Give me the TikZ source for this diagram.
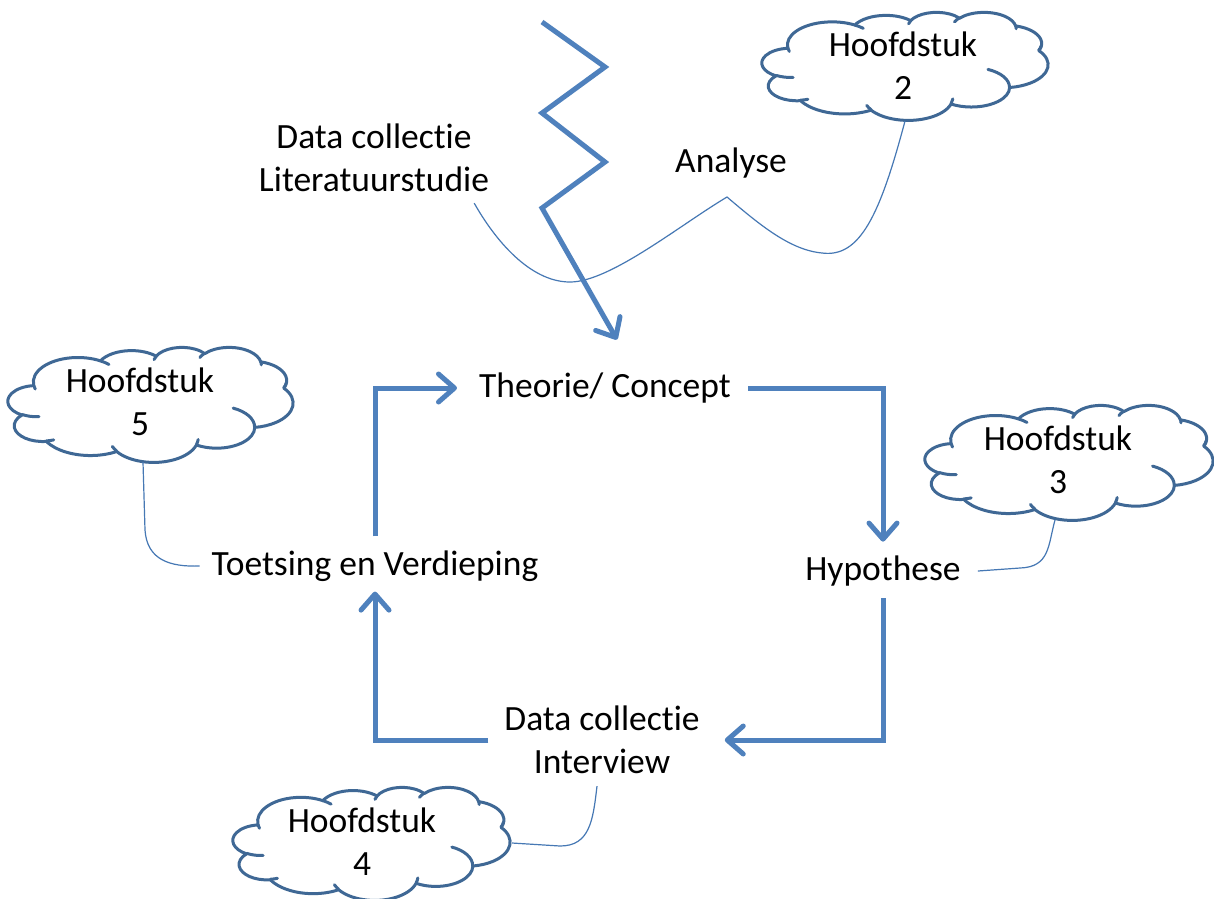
\documentclass[tikz,border=0pt]{standalone}
\usepackage{fontspec}
\setmainfont{Carlito}[Ligatures={NoCommon,NoDiscretionary,NoContextual}]
\usetikzlibrary{arrows.meta}
\definecolor{flowblue}{HTML}{4F81BD}
\definecolor{cloudedge}{HTML}{3F6895}
\definecolor{thinblue}{HTML}{4678B4}

% Office-style cloud: #1 left, #2 top, #3 width, #4 height (pixels)
\newcommand{\ocloud}[4]{%
\begin{scope}[shift={(#1,#2)}, xscale=#3/432, yscale=#4/432]
\path[cloudline] (39.00,143.70)
  arc[start angle={vang(-190.48748,67.53,91.90)}, end angle={vang(-66.70695,67.53,91.90)}, x radius=67.53, y radius=91.90]
  arc[start angle={vang(-144.10238,53.33,72.67)}, end angle={vang(-54.15715,53.33,72.67)}, x radius=53.33, y radius=72.67]
  arc[start angle={vang(-145.80792,43.65,59.45)}, end angle={vang(-46.0849,43.65,59.45)}, x radius=43.65, y radius=59.45]
  arc[start angle={vang(-130.98607,48.57,65.95)}, end angle={vang(-13.74434,48.57,65.95)}, x radius=48.57, y radius=65.95]
  arc[start angle={vang(-78.70888,53.33,72.73)}, end angle={vang(30.31804,53.33,72.73)}, x radius=53.33, y radius=72.73]
  arc[start angle={vang(-46.26725,67.75,92.20)}, end angle={vang(84.00175,67.75,92.20)}, x radius=67.75, y radius=92.20]
  arc[start angle={vang(0.62502,57.85,78.67)}, end angle={vang(114.65835,57.85,78.67)}, x radius=57.85, y radius=78.67]
  arc[start angle={vang(22.4516,67.52,92.15)}, end angle={vang(137.62415,67.52,92.15)}, x radius=67.52, y radius=92.15]
  arc[start angle={vang(66.24263,77.20,105.43)}, end angle={vang(141.95365,77.20,105.43)}, x radius=77.20, y radius=105.43]
  arc[start angle={vang(-274.94208,43.60,59.18)}, end angle={vang(-128.20651,43.60,59.18)}, x radius=43.60, y radius=59.18]
  arc[start angle={vang(-246.8285,43.45,59.45)}, end angle={vang(-94.30965,43.45,59.45)}, x radius=43.45, y radius=59.45]
  -- cycle;
\path[cloudhook]
  (46.93,261.77) arc[start angle={vang(86.742,43.45,59.45)}, end angle={vang(113.1715,43.45,59.45)}, x radius=43.45, y radius=59.45]
  (69.28,348.99) arc[start angle={vang(73.61047,43.60,59.18)}, end angle={vang(85.05794,43.60,59.18)}, x radius=43.60, y radius=59.18]
  (164.78,390.90) arc[start angle={vang(137.62415,67.52,92.15)}, end angle={vang(151.70525,67.52,92.15)}, x radius=67.52, y radius=92.15]
  (288.27,347.51) arc[start angle={vang(6.45327,67.52,92.15)}, end angle={vang(22.45162,67.52,92.15)}, x radius=67.52, y radius=92.15]
  (341.29,229.54) arc[start angle={vang(-70.29235,57.85,78.67)}, end angle={vang(0.62502,57.85,78.67)}, x radius=57.85, y radius=78.67]
  (417.98,153.54) arc[start angle={vang(30.31803,53.33,72.73)}, end angle={vang(11.64246,53.33,72.73)}, x radius=53.33, y radius=72.73]
  (383.24,54.26) arc[start angle={vang(-13.74433,48.57,65.95)}, end angle={vang(1.10909,48.57,65.95)}, x radius=48.57, y radius=65.95]
  (290.78,39.52) arc[start angle={vang(-149.18145,48.57,65.95)}, end angle={vang(-130.98608,48.57,65.95)}, x radius=48.57, y radius=65.95]
  (221.41,47.20) arc[start angle={vang(-163.49427,43.65,59.45)}, end angle={vang(-145.80792,43.65,59.45)}, x radius=43.65, y radius=59.45]
  (140.00,51.92) arc[start angle={vang(-66.70695,67.53,91.90)}, end angle={vang(-54.3876,67.53,91.90)}, x radius=67.53, y radius=91.90]
  (41.27,157.89) arc[start angle={vang(157.65435,67.53,91.90)}, end angle={vang(169.51252,67.53,91.90)}, x radius=67.53, y radius=91.90];
\end{scope}}

\begin{document}
\begin{tikzpicture}[x=1pt, y=-1pt,
  declare function={vang(\qa,\qx,\qy)=\qa + mod(atan2(\qx*sin(\qa),\qy*cos(\qa)) - \qa + 540, 360) - 180;},
  cloudline/.style={draw=cloudedge, line width=3pt, fill=white, line join=round},
  cloudhook/.style={draw=cloudedge, line width=3pt, line cap=round},
  lbl/.style={font=\fontsize{35.5}{43}\selectfont, align=center, inner sep=0pt, text=black},
  flow/.style={draw=flowblue, line width=5pt, -{Straight Barb[length=16pt, width=28pt, round]}},
  thin/.style={draw=thinblue, line width=1.2pt}]
\useasboundingbox (0,0) rectangle (1214,898);
\fill[white] (0,0) rectangle (1214,898);

% clouds
\ocloud{762}{12}{286}{108}
\ocloud{8}{347}{285}{115}
\ocloud{925}{405}{288}{115}
\ocloud{233}{787}{277}{113}

% cloud labels
\node[lbl] (h2) at (903,66) {Hoofdstuk\\2};
\node[lbl] (h5) at (140,402) {Hoofdstuk\\5};
\node[lbl] (h3) at (1058,460) {Hoofdstuk\\3};
\node[lbl] (h4) at (362,842) {Hoofdstuk\\4};

% main labels
\node[lbl] (lit) at (374,158) {Data collectie\\Literatuurstudie};
\node[lbl] (ana) at (731,163) {Analyse};
\node[lbl] (theo) at (605,388) {Theorie/ Concept};
\node[lbl] (hyp) at (883,571) {Hypothese};
\node[lbl] (toets) at (375,566) {Toetsing en Verdieping};
\node[lbl] (dci) at (602,740) {Data collectie\\Interview};

% cloud tails
\coordinate (c2b) at (905,121);
\coordinate (c5b) at (143,462);
\coordinate (c3b) at (1055,520);
\coordinate (c4r) at (512,843);
\coordinate (z0) at (542,22);

% thin connectors
\draw[thin] (c2b) .. controls (880,215) and (860,258) .. (822,253)
  .. controls (790,250) and (760,225) .. (727,197)
  .. controls (680,225) and (610,282) .. (570,282)
  .. controls (530,282) and (495,240) .. ([shift={(-15pt,-11pt)}]lit.south east);
\draw[thin] (c5b) -- (145,530) .. controls (147,560) and (170,567) .. ([xshift=-12pt]toets.west);
\draw[thin] (c3b) .. controls (1048,545) and (1050,567) .. (1020,568) -- ([xshift=17pt]hyp.east);
\draw[thin] (c4r) -- (560,846) .. controls (590,846) and (593,820) .. ([shift={(-5pt,-12pt)}]dci.south);

% zigzag arrow
\draw[flow] (z0) -- (605,67) -- (542,113) -- (605,162) -- (542,208) -- ([shift={(12pt,33pt)}]theo.north);

% cycle arrows
\draw[flow] ([xshift=17pt]theo.east) -| ([yshift=14pt]hyp.north);
\draw[flow] ([yshift=-12pt]hyp.south) |- ([xshift=25pt]dci.east);
\draw[flow] ([xshift=-16pt]dci.west) -| ([yshift=-10pt]toets.south);
\draw[flow] ([yshift=14pt]toets.north) |- ([xshift=-22pt]theo.west);
\end{tikzpicture}
\end{document}
